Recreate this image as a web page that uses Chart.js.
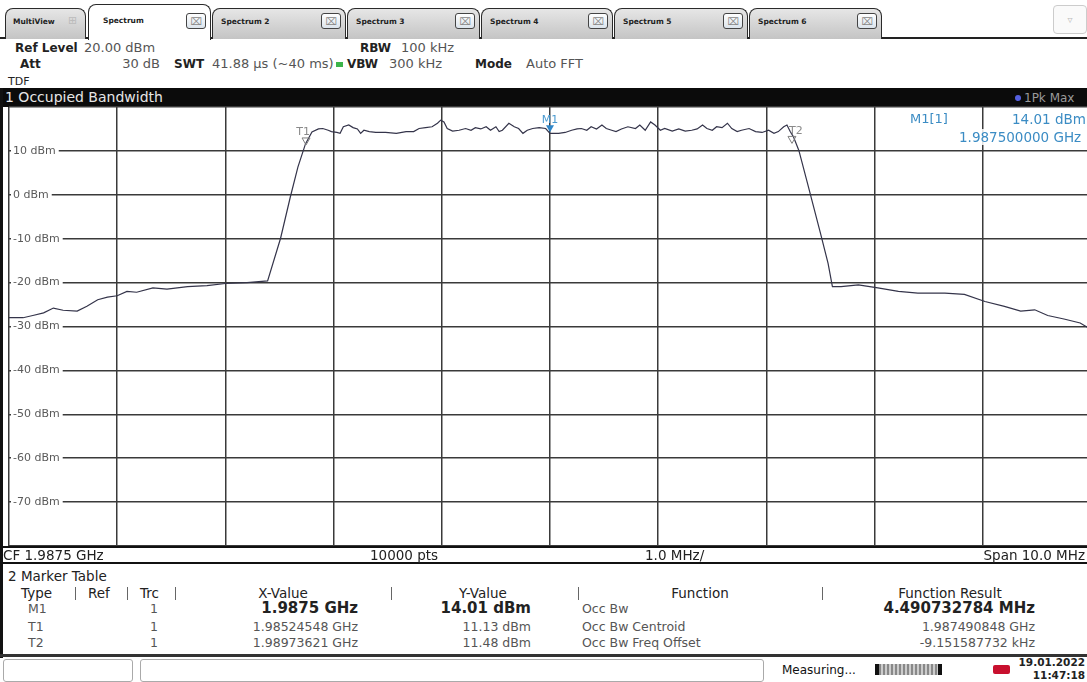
<!DOCTYPE html>
<html>
<head>
<meta charset="utf-8">
<script src="https://cdn.jsdelivr.net/npm/chart.js@4.4.0/dist/chart.umd.min.js"></script>
<style>
html,body{margin:0;padding:0;}
body{position:relative;width:1087px;height:682px;overflow:hidden;background:#fff;font-family:"DejaVu Sans",sans-serif;color:#222;}
.t{position:absolute;white-space:nowrap;line-height:16px;font-size:13px;}
.b{font-weight:bold;}
.g{color:#555;}
.tab{position:absolute;top:8px;height:31px;border:1.5px solid #2a2a2a;border-bottom:none;border-radius:8px 8px 0 0;background:linear-gradient(#e6e6e6,#c4c4c4);box-sizing:border-box;}
.tab.act{top:4px;height:36px;background:#fff;z-index:2;}
.tl{position:absolute;left:8px;top:8px;font-weight:bold;font-size:7.5px;color:#222;white-space:nowrap;}
.cx{position:absolute;right:4px;top:4px;width:20px;height:16px;border:1px solid #444;border-radius:3px;background:linear-gradient(#fff,#dce4ec);font-size:10px;text-align:center;line-height:16px;color:#888;box-sizing:border-box;}
.hl{position:absolute;left:0;width:1087px;background:#111;}
.sep{position:absolute;width:1px;height:13px;background:#666;}
#plot{position:absolute;left:7px;top:105px;width:1086px;height:443px;}
</style>
</head>
<body>

<!-- tab strip -->
<div class="hl" style="top:37px;height:2px;background:#222"></div>
<div class="tab" style="left:5px;width:81px;"><span class="tl" style="left:7px">MultiView</span><span class="t" style="left:62px;top:4px;font-size:11px;color:#bbb">&#8862;</span></div>
<div class="tab act" style="left:88px;width:123px;"><span class="tl" style="left:14px;top:11px">Spectrum</span><span class="cx" style="top:8px">&#8999;</span></div>
<div class="tab" style="left:212px;width:134px;"><span class="tl">Spectrum 2</span><span class="cx">&#8999;</span></div>
<div class="tab" style="left:347px;width:133px;"><span class="tl">Spectrum 3</span><span class="cx">&#8999;</span></div>
<div class="tab" style="left:481px;width:132px;"><span class="tl">Spectrum 4</span><span class="cx">&#8999;</span></div>
<div class="tab" style="left:614px;width:134px;"><span class="tl">Spectrum 5</span><span class="cx">&#8999;</span></div>
<div class="tab" style="left:749px;width:133px;"><span class="tl">Spectrum 6</span><span class="cx">&#8999;</span></div>
<div style="position:absolute;left:1053px;top:5px;width:34px;height:29px;border:1px solid #ccc;border-radius:4px;box-sizing:border-box;background:#fafafa;color:#bbb;font-size:10px;text-align:center;line-height:27px">&#9663;</div>

<!-- settings header -->
<div class="t b" style="left:15px;top:40px;font-size:12px">Ref Level</div>
<div class="t g" style="left:84px;top:40px">20.00 dBm</div>
<div class="t b" style="left:20px;top:56px;font-size:12px">Att</div>
<div class="t g" style="right:927px;top:56px">30 dB</div>
<div class="t b" style="left:174px;top:56px;font-size:12px">SWT</div>
<div class="t g" style="left:212px;top:56px">41.88 µs (~40 ms)</div>
<div style="position:absolute;left:336px;top:62px;width:7px;height:5px;background:#3cb44a"></div>
<div class="t b" style="left:347px;top:56px;font-size:12px">VBW</div>
<div class="t g" style="left:389px;top:56px">300 kHz</div>
<div class="t b" style="left:360px;top:40px;font-size:12px">RBW</div>
<div class="t g" style="left:401px;top:40px">100 kHz</div>
<div class="t b" style="left:475px;top:56px;font-size:12px">Mode</div>
<div class="t g" style="left:526px;top:56px">Auto FFT</div>
<div class="t" style="left:8px;top:74px;font-size:11px">TDF</div>

<!-- diagram title bar -->
<div class="hl" style="top:88px;height:19px;background:#0b0b0b"></div>
<div class="t" style="left:5px;top:89px;font-size:14px;color:#e6e6e6">1 Occupied Bandwidth</div>
<div style="position:absolute;left:1015px;top:95px;width:6px;height:6px;border-radius:3px;background:#5560e0"></div>
<div class="t" style="left:1024px;top:90px;font-size:12px;color:#9a9a9a">1Pk Max</div>

<!-- window frame left -->
<div style="position:absolute;left:0;top:88px;width:3px;height:570px;background:#111"></div>

<div id="plot"><canvas id="spec"></canvas></div>

<!-- marker readout -->
<div class="t" style="left:910px;top:111px;font-size:13px;color:#3b8cc4">M1[1]</div>
<div class="t" style="left:1012px;top:111px;font-size:13.5px;color:#3b8cc4;background:#fff">14.01 dBm</div>
<div class="t" style="left:959px;top:129px;font-size:13.5px;color:#3b8cc4;background:rgba(255,255,255,0.85)">1.987500000 GHz</div>

<!-- CF / span bar -->
<div class="hl" style="top:546px;height:2px"></div>
<div class="hl" style="top:562px;height:2px"></div>
<div class="t" style="left:3px;top:547px;font-size:13.5px">CF 1.9875 GHz</div>
<div class="t" style="left:370px;top:547px;font-size:13.5px">10000 pts</div>
<div class="t" style="left:645px;top:547px;font-size:13.5px">1.0 MHz/</div>
<div class="t" style="right:2px;top:547px;font-size:13.5px">Span 10.0 MHz</div>

<!-- marker table -->
<div class="t" style="left:8px;top:568px;font-size:13.5px">2 Marker Table</div>
<div class="t" style="left:21px;top:585px;font-size:13.5px">Type</div>
<div class="sep" style="left:75px;top:587px"></div>
<div class="t" style="left:88px;top:585px;font-size:13.5px">Ref</div>
<div class="sep" style="left:127px;top:587px"></div>
<div class="t" style="left:140px;top:585px;font-size:13.5px">Trc</div>
<div class="sep" style="left:175px;top:587px"></div>
<div class="t" style="left:183px;width:200px;text-align:center;top:585px;font-size:13.5px">X-Value</div>
<div class="sep" style="left:391px;top:587px"></div>
<div class="t" style="left:383px;width:200px;text-align:center;top:585px;font-size:13.5px">Y-Value</div>
<div class="sep" style="left:578px;top:587px"></div>
<div class="t" style="left:600px;width:200px;text-align:center;top:585px;font-size:13.5px">Function</div>
<div class="sep" style="left:822px;top:587px"></div>
<div class="t" style="left:850px;width:200px;text-align:center;top:585px;font-size:13.5px">Function Result</div>

<div class="t g" style="left:28px;top:601px;font-size:12.5px">M1</div>
<div class="t g" style="left:150px;top:601px;font-size:12.5px">1</div>
<div class="t b" style="right:729px;top:600px;font-size:15px">1.9875 GHz</div>
<div class="t b" style="right:556px;top:600px;font-size:15px">14.01 dBm</div>
<div class="t g" style="left:582px;top:601px;font-size:12.5px">Occ Bw</div>
<div class="t b" style="right:52px;top:600px;font-size:15px">4.490732784 MHz</div>

<div class="t g" style="left:28px;top:619px;font-size:12.5px">T1</div>
<div class="t g" style="left:150px;top:619px;font-size:12.5px">1</div>
<div class="t g" style="right:729px;top:619px;font-size:12.5px">1.98524548 GHz</div>
<div class="t g" style="right:556px;top:619px;font-size:12.5px">11.13 dBm</div>
<div class="t g" style="left:582px;top:619px;font-size:12.5px">Occ Bw Centroid</div>
<div class="t g" style="right:52px;top:619px;font-size:12.5px">1.987490848 GHz</div>

<div class="t g" style="left:28px;top:635px;font-size:12.5px">T2</div>
<div class="t g" style="left:150px;top:635px;font-size:12.5px">1</div>
<div class="t g" style="right:729px;top:635px;font-size:12.5px">1.98973621 GHz</div>
<div class="t g" style="right:556px;top:635px;font-size:12.5px">11.48 dBm</div>
<div class="t g" style="left:582px;top:635px;font-size:12.5px">Occ Bw Freq Offset</div>
<div class="t g" style="right:52px;top:635px;font-size:12.5px">-9.151587732 kHz</div>

<!-- status bar -->
<div class="hl" style="top:654px;height:3px;background:#333"></div>
<div style="position:absolute;left:3px;top:659px;width:130px;height:23px;border:1px solid #aaa;border-radius:3px;box-sizing:border-box"></div>
<div style="position:absolute;left:140px;top:659px;width:624px;height:23px;border:1px solid #aaa;border-radius:3px;box-sizing:border-box"></div>
<div class="t" style="left:782px;top:662px;font-size:12px;color:#111">Measuring...</div>
<div style="position:absolute;left:875px;top:664px;width:67px;height:11px;background:repeating-linear-gradient(90deg,#888 0 2px,#ccc 2px 4px);border-left:4px solid #111;border-right:4px solid #111;box-sizing:border-box"></div>
<div style="position:absolute;left:993px;top:665px;width:17px;height:9px;background:#c8102e;border-radius:2px"></div>
<div class="t b" style="right:2px;top:656px;font-size:10.5px;line-height:13px">19.01.2022</div>
<div class="t b" style="right:2px;top:669px;font-size:10.5px;line-height:13px">11:47:18</div>

<script>
// trace: offset from CF 1.9875 GHz in MHz, level in dBm
const freqOffsetMHz = [
  -5.00, -4.87, -4.78, -4.68, -4.59, -4.50, -4.37, -4.28, -4.18, -4.09,
  -4.00, -3.91, -3.82, -3.67, -3.54, -3.35, -3.17, -3.00, -2.80, -2.61,
  -2.49, -2.40, -2.33, -2.26, -2.20, -2.14, -2.10, -2.05, -2.02, -1.97,
  -1.94, -1.91, -1.86, -1.82, -1.78, -1.75, -1.72, -1.67, -1.61, -1.52,
  -1.42, -1.33, -1.26, -1.21, -1.15, -1.09, -1.04, -1.01, -0.98, -0.95,
  -0.90, -0.84, -0.78, -0.73, -0.69, -0.64, -0.59, -0.55, -0.50, -0.47,
  -0.44, -0.38, -0.33, -0.29, -0.25, -0.21, -0.16, -0.10, -0.04, 0.00,
  0.08, 0.14, 0.20, 0.25, 0.29, 0.34, 0.38, 0.43, 0.48, 0.52,
  0.57, 0.61, 0.66, 0.72, 0.79, 0.83, 0.88, 0.93, 0.97, 1.02,
  1.06, 1.13, 1.19, 1.25, 1.31, 1.36, 1.41, 1.45, 1.50, 1.54,
  1.59, 1.64, 1.68, 1.73, 1.77, 1.84, 1.90, 1.96, 2.02, 2.07,
  2.11, 2.16, 2.19, 2.22, 2.25, 2.30, 2.38, 2.50, 2.57, 2.61,
  2.69, 2.85, 3.03, 3.22, 3.40, 3.65, 3.83, 4.02, 4.20, 4.35,
  4.48, 4.60, 4.75, 4.90, 5.00
];
const levelDbm = [
  -28.0, -28.0, -27.5, -26.9, -25.8, -26.3, -26.5, -25.4, -23.9, -23.3,
  -23.0, -22.0, -22.2, -21.2, -21.5, -20.9, -20.7, -20.2, -20.0, -19.6,
  -9.9, -0.5, 6.3, 11.6, 14.3, 15.0, 15.1, 14.7, 14.4, 14.2,
  14.0, 15.5, 15.9, 15.3, 15.0, 14.0, 14.7, 14.4, 14.2, 14.2,
  14.0, 14.4, 14.4, 15.1, 15.3, 15.5, 16.3, 17.0, 16.6, 15.1,
  14.5, 14.7, 15.1, 14.7, 15.3, 15.0, 15.5, 14.7, 15.5, 14.4,
  14.7, 16.3, 15.5, 15.1, 14.0, 14.7, 15.1, 15.3, 15.1, 14.0,
  14.0, 14.2, 14.7, 15.0, 15.1, 14.7, 15.5, 15.0, 15.9, 15.1,
  14.7, 14.4, 15.0, 15.5, 15.1, 15.9, 14.7, 16.6, 15.9, 14.7,
  15.1, 14.5, 15.0, 14.5, 14.7, 15.0, 15.9, 15.1, 14.7, 15.5,
  15.3, 16.3, 15.1, 14.4, 14.7, 15.1, 14.4, 14.2, 14.7, 14.0,
  14.4, 15.5, 15.9, 14.4, 13.2, 10.1, 2.6, -8.8, -15.6, -20.9,
  -20.9, -20.5, -21.2, -22.0, -22.4, -22.4, -22.7, -24.3, -25.4, -26.5,
  -26.2, -27.5, -28.3, -29.2, -30.7
];

// markers from the marker table
const markerNames = ['T1', 'M1', 'T2'];
const markerOffsetMHz = [-2.25452, 0, 2.23621];
const markerLevelDbm = [11.13, 14.01, 11.48];

const refLevel = 20;
const levelRange = 100;
const spanMHz = 10;

const markerPlugin = {
  id: 'markers',
  afterDatasetsDraw(chart) {
    const ctx = chart.ctx;
    const x = chart.scales.x, y = chart.scales.y;
    markerNames.forEach((name, i) => {
      const px = x.getPixelForValue(markerOffsetMHz[i]);
      const py = y.getPixelForValue(markerLevelDbm[i]);
      const main = name[0] === 'M';
      ctx.save();
      ctx.beginPath();
      ctx.moveTo(px, py - 1);
      ctx.lineTo(px - 4, py - 8);
      ctx.lineTo(px + 4, py - 8);
      ctx.closePath();
      if (main) {
        ctx.fillStyle = '#2f86c8';
        ctx.fill();
      } else {
        ctx.strokeStyle = '#808080';
        ctx.lineWidth = 1;
        ctx.stroke();
      }
      ctx.font = '11px "DejaVu Sans"';
      ctx.fillStyle = main ? '#4a9ad0' : '#8a8a8a';
      ctx.textAlign = 'center';
      ctx.textBaseline = 'bottom';
      const dx = name === 'T1' ? -3 : (name === 'T2' ? 4 : 0);
      ctx.fillText(name, px + dx, py - 8);
      ctx.restore();
    });
  }
};

const gridColor = '#3a3a3a';

new Chart(document.getElementById('spec'), {
  type: 'line',
  data: {
    datasets: [{
      label: '1Pk Max',
      data: freqOffsetMHz.map((f, i) => ({ x: f, y: levelDbm[i] })),
      borderColor: '#34344a',
      borderWidth: 1.2,
      pointRadius: 0,
      tension: 0,
      fill: false
    }]
  },
  options: {
    animation: false,
    responsive: true,
    maintainAspectRatio: false,
    layout: { padding: 2 },
    plugins: { legend: { display: false }, tooltip: { enabled: false } },
    scales: {
      x: {
        type: 'linear',
        min: -spanMHz / 2,
        max: spanMHz / 2,
        ticks: { display: false, stepSize: 1 },
        grid: { color: gridColor, lineWidth: 1.5, drawTicks: false },
        border: { display: false },
        afterFit: s => { s.height = 0; s.paddingLeft = 0; s.paddingRight = 0; }
      },
      y: {
        min: refLevel - levelRange,
        max: refLevel,
        ticks: {
          stepSize: 10,
          mirror: true,
          padding: 4,
          color: '#5a5a5a',
          font: { family: 'DejaVu Sans', size: 11 },
          showLabelBackdrop: true,
          backdropColor: c => (c.tick && (c.tick.value === refLevel || c.tick.value === refLevel - levelRange)) ? 'rgba(0,0,0,0)' : '#ffffff',
          backdropPadding: { left: 2, right: 3, top: 0, bottom: 0 },
          callback: v => (v === refLevel || v === refLevel - levelRange) ? '' : v + ' dBm'
        },
        grid: { color: gridColor, lineWidth: 1.5, drawTicks: false },
        border: { display: false },
        afterFit: s => { s.width = 0; s.paddingTop = 0; s.paddingBottom = 0; }
      }
    }
  },
  plugins: [markerPlugin]
});
</script>
</body>
</html>
